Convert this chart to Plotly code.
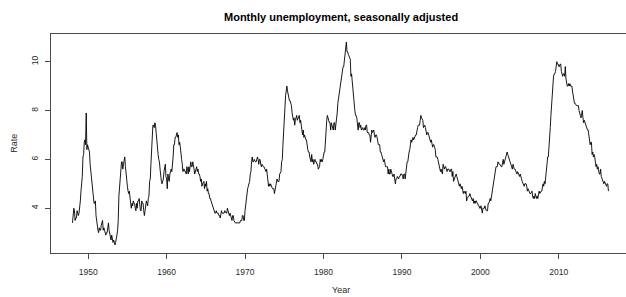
import plotly.graph_objects as go

start_year = 1948

rate_1940s = [
    3.4, 3.8, 4.0, 3.9, 3.5, 3.6, 3.6, 3.9, 3.8, 3.7, 3.8, 4.0,
    4.3, 4.7, 5.0, 5.3, 6.1, 6.2, 6.7, 6.8, 6.6, 7.9, 6.4, 6.6,
]
rate_1950s = [
    6.5, 6.4, 6.3, 5.8, 5.5, 5.4, 5.0, 4.5, 4.4, 4.2, 4.2, 4.3,
    3.7, 3.4, 3.4, 3.1, 3.0, 3.2, 3.1, 3.1, 3.3, 3.5, 3.5, 3.1,
    3.2, 3.1, 2.9, 2.9, 3.0, 3.0, 3.2, 3.4, 3.1, 3.0, 2.8, 2.7,
    2.9, 2.6, 2.6, 2.7, 2.5, 2.5, 2.6, 2.7, 2.9, 3.1, 3.5, 4.5,
    4.9, 5.2, 5.7, 5.9, 5.9, 5.6, 5.8, 6.0, 6.1, 5.7, 5.3, 5.0,
    4.9, 4.7, 4.6, 4.7, 4.3, 4.2, 4.0, 4.2, 4.1, 4.3, 4.2, 4.2,
    4.0, 3.9, 4.2, 4.0, 4.3, 4.3, 4.4, 4.1, 3.9, 3.9, 4.3, 4.2,
    4.2, 3.9, 3.7, 3.9, 4.1, 4.3, 4.2, 4.1, 4.4, 4.5, 5.1, 5.2,
    5.8, 6.4, 6.7, 7.4, 7.4, 7.3, 7.5, 7.4, 7.1, 6.7, 6.2, 6.2,
    6.0, 5.9, 5.6, 5.2, 5.1, 5.0, 5.1, 5.2, 5.5, 5.7, 5.8, 5.3,
]
rate_1960s = [
    5.2, 4.8, 5.4, 5.2, 5.1, 5.4, 5.5, 5.6, 5.5, 6.1, 6.1, 6.6,
    6.6, 6.9, 6.9, 7.0, 7.1, 6.9, 7.0, 6.6, 6.7, 6.5, 6.1, 6.0,
    5.8, 5.5, 5.6, 5.6, 5.5, 5.5, 5.4, 5.7, 5.6, 5.4, 5.7, 5.5,
    5.7, 5.9, 5.7, 5.7, 5.9, 5.6, 5.6, 5.4, 5.5, 5.5, 5.7, 5.5,
    5.6, 5.4, 5.4, 5.3, 5.1, 5.2, 4.9, 5.0, 5.1, 5.1, 4.8, 5.0,
    4.9, 5.1, 4.7, 4.8, 4.6, 4.6, 4.4, 4.4, 4.3, 4.2, 4.1, 4.0,
    4.0, 3.8, 3.8, 3.8, 3.9, 3.8, 3.8, 3.8, 3.7, 3.7, 3.6, 3.8,
    3.9, 3.8, 3.8, 3.8, 3.8, 3.9, 3.8, 3.8, 3.8, 4.0, 3.9, 3.8,
    3.7, 3.8, 3.7, 3.5, 3.5, 3.7, 3.7, 3.5, 3.4, 3.4, 3.4, 3.4,
    3.4, 3.4, 3.4, 3.4, 3.4, 3.5, 3.5, 3.5, 3.7, 3.7, 3.5, 3.5,
]
rate_1970s = [
    3.9, 4.2, 4.4, 4.6, 4.8, 4.9, 5.0, 5.1, 5.4, 5.5, 5.9, 6.1,
    5.9, 5.9, 6.0, 5.9, 5.9, 5.9, 6.0, 6.1, 6.0, 5.8, 6.0, 6.0,
    5.8, 5.7, 5.8, 5.7, 5.7, 5.7, 5.6, 5.6, 5.5, 5.6, 5.3, 5.2,
    4.9, 5.0, 4.9, 5.0, 4.9, 4.9, 4.8, 4.8, 4.8, 4.6, 4.8, 4.9,
    5.1, 5.2, 5.1, 5.1, 5.1, 5.4, 5.5, 5.5, 5.9, 6.0, 6.6, 7.2,
    8.1, 8.1, 8.6, 8.8, 9.0, 8.8, 8.6, 8.4, 8.4, 8.4, 8.3, 8.2,
    7.9, 7.7, 7.6, 7.7, 7.4, 7.6, 7.8, 7.8, 7.6, 7.7, 7.8, 7.8,
    7.5, 7.6, 7.4, 7.2, 7.0, 7.2, 6.9, 7.0, 6.8, 6.8, 6.8, 6.4,
    6.4, 6.3, 6.3, 6.1, 6.0, 5.9, 6.2, 5.9, 6.0, 5.8, 5.9, 6.0,
    5.9, 5.9, 5.8, 5.8, 5.6, 5.7, 5.7, 6.0, 5.9, 6.0, 5.9, 6.0,
]
rate_1980s = [
    6.3, 6.3, 6.3, 6.9, 7.5, 7.6, 7.8, 7.7, 7.5, 7.5, 7.5, 7.2,
    7.5, 7.4, 7.4, 7.2, 7.5, 7.5, 7.2, 7.4, 7.6, 7.9, 8.3, 8.5,
    8.6, 8.9, 9.0, 9.3, 9.4, 9.6, 9.8, 9.8, 10.1, 10.4, 10.8, 10.8,
    10.4, 10.4, 10.3, 10.2, 10.1, 10.1, 9.4, 9.5, 9.2, 8.8, 8.5, 8.3,
    8.0, 7.8, 7.8, 7.7, 7.4, 7.2, 7.5, 7.5, 7.3, 7.4, 7.2, 7.3,
    7.3, 7.2, 7.2, 7.3, 7.2, 7.4, 7.4, 7.1, 7.1, 7.1, 7.0, 7.0,
    6.7, 7.2, 7.2, 7.1, 7.2, 7.2, 7.0, 6.9, 7.0, 7.0, 6.9, 6.6,
    6.6, 6.6, 6.6, 6.3, 6.3, 6.2, 6.1, 6.0, 5.9, 6.0, 5.8, 5.7,
    5.7, 5.7, 5.7, 5.4, 5.6, 5.4, 5.4, 5.6, 5.4, 5.4, 5.3, 5.3,
    5.4, 5.2, 5.0, 5.2, 5.2, 5.3, 5.2, 5.2, 5.3, 5.3, 5.4, 5.4,
]
rate_1990s = [
    5.4, 5.3, 5.2, 5.4, 5.4, 5.2, 5.5, 5.7, 5.9, 5.9, 6.2, 6.3,
    6.4, 6.6, 6.8, 6.7, 6.9, 6.9, 6.8, 6.9, 6.9, 7.0, 7.0, 7.3,
    7.3, 7.4, 7.4, 7.4, 7.6, 7.8, 7.7, 7.6, 7.6, 7.3, 7.4, 7.4,
    7.3, 7.1, 7.0, 7.1, 7.1, 7.0, 6.9, 6.8, 6.7, 6.8, 6.6, 6.5,
    6.6, 6.6, 6.5, 6.4, 6.1, 6.1, 6.1, 6.0, 5.9, 5.8, 5.6, 5.5,
    5.6, 5.4, 5.4, 5.8, 5.6, 5.6, 5.7, 5.7, 5.6, 5.5, 5.6, 5.6,
    5.6, 5.5, 5.5, 5.6, 5.6, 5.3, 5.5, 5.1, 5.2, 5.2, 5.4, 5.4,
    5.3, 5.2, 5.2, 5.1, 4.9, 5.0, 4.9, 4.8, 4.9, 4.7, 4.6, 4.7,
    4.6, 4.6, 4.7, 4.3, 4.4, 4.5, 4.5, 4.5, 4.6, 4.5, 4.4, 4.4,
    4.3, 4.4, 4.2, 4.3, 4.2, 4.3, 4.3, 4.2, 4.2, 4.1, 4.1, 4.0,
]
rate_2000s = [
    4.0, 4.1, 4.0, 3.8, 4.0, 4.0, 4.0, 4.1, 3.9, 3.9, 3.9, 3.9,
    4.2, 4.2, 4.3, 4.4, 4.3, 4.5, 4.6, 4.9, 5.0, 5.3, 5.5, 5.7,
    5.7, 5.7, 5.7, 5.9, 5.8, 5.8, 5.8, 5.7, 5.7, 5.7, 5.9, 6.0,
    5.8, 5.9, 5.9, 6.0, 6.1, 6.3, 6.2, 6.1, 6.1, 6.0, 5.8, 5.7,
    5.7, 5.6, 5.8, 5.6, 5.6, 5.6, 5.5, 5.4, 5.4, 5.5, 5.4, 5.4,
    5.3, 5.4, 5.2, 5.2, 5.1, 5.0, 5.0, 4.9, 5.0, 5.0, 5.0, 4.9,
    4.7, 4.8, 4.7, 4.7, 4.6, 4.6, 4.7, 4.7, 4.5, 4.4, 4.5, 4.4,
    4.6, 4.5, 4.4, 4.5, 4.4, 4.6, 4.7, 4.6, 4.7, 4.7, 4.7, 5.0,
    5.0, 4.9, 5.1, 5.0, 5.4, 5.6, 5.8, 6.1, 6.1, 6.5, 6.8, 7.3,
    7.8, 8.3, 8.7, 9.0, 9.4, 9.5, 9.5, 9.6, 9.8, 10.0, 9.9, 9.9,
]
rate_2010s = [
    9.8, 9.8, 9.9, 9.9, 9.6, 9.4, 9.4, 9.5, 9.5, 9.4, 9.8, 9.3,
    9.1, 9.0, 9.0, 9.1, 9.0, 9.1, 9.0, 9.0, 9.0, 8.8, 8.6, 8.5,
    8.3, 8.3, 8.2, 8.2, 8.2, 8.2, 8.2, 8.0, 7.8, 7.8, 7.7, 7.9,
    8.0, 7.7, 7.5, 7.6, 7.5, 7.5, 7.3, 7.2, 7.2, 7.2, 6.9, 6.7,
    6.6, 6.7, 6.7, 6.2, 6.3, 6.1, 6.2, 6.1, 5.9, 5.7, 5.8, 5.6,
    5.7, 5.5, 5.4, 5.4, 5.6, 5.3, 5.2, 5.1, 5.0, 5.0, 5.1, 5.0,
    4.9, 4.9, 5.0, 5.0, 4.7,
]

x_ticks = [1950, 1960, 1970, 1980, 1990, 2000, 2010]
y_ticks = [4, 6, 8, 10]

rates = (rate_1940s + rate_1950s + rate_1960s + rate_1970s +
         rate_1980s + rate_1990s + rate_2000s + rate_2010s)
times = [start_year + i / 12 for i in range(len(rates))]

W, H = 626, 297
L, R, T, B = 50.5, 0.0, 34.4, 44.0
FONT = "Liberation Sans, Arial, Helvetica, sans-serif"
AX = "#4a4a4a"
TXT = "#2a2a2a"

fig = go.Figure()
fig.add_trace(go.Scatter(x=times, y=rates, mode="lines",
                         line=dict(color="black", width=0.9),
                         hoverinfo="skip", showlegend=False))

plot_w = W - L - R
fig.update_layout(
    width=W, height=H,
    margin=dict(l=L, r=R, t=T, b=B, pad=0),
    paper_bgcolor="white", plot_bgcolor="white",
    font=dict(family=FONT, size=8, color=TXT),
    showlegend=False,
)
fig.update_xaxes(
    range=[1945.26, 1945.26 + plot_w / 7.85],
    tickvals=x_ticks, ticktext=[str(v) for v in x_ticks],
    showgrid=False, zeroline=False,
    showline=True, linecolor=AX, linewidth=1, mirror=True,
    ticks="outside", ticklen=5, tickcolor=AX, tickwidth=1,
    ticklabelstandoff=6,
    tickfont=dict(size=8.5, color=TXT),
)
fig.update_yaxes(
    range=[2.168, 11.132],
    tickvals=y_ticks, ticktext=[str(v) for v in y_ticks],
    showgrid=False, zeroline=False,
    showline=True, linecolor=AX, linewidth=1, mirror=False,
    ticks="outside", ticklen=5, tickcolor=AX, tickwidth=1,
    tickangle=-90, ticklabelstandoff=4,
    tickfont=dict(size=8.5, color=TXT),
)

# title and axis titles
cx = (341 - L) / plot_w
fig.add_annotation(text="<b>Monthly unemployment, seasonally adjusted</b>",
                   xref="paper", yref="paper", x=cx, y=1 + (T - 17) / (H - T - B),
                   xanchor="center", yanchor="middle", showarrow=False,
                   font=dict(size=11, color="black", family=FONT))
fig.add_annotation(text="Year", xref="paper", yref="paper",
                   x=cx, y=-(290 - (H - B)) / (H - T - B),
                   xanchor="center", yanchor="middle", showarrow=False,
                   font=dict(size=9, color=TXT, family=FONT))
fig.add_annotation(text="Rate", xref="paper", yref="paper",
                   x=-(L - 12.7) / plot_w, y=0.5, textangle=-90,
                   xanchor="center", yanchor="middle", showarrow=False,
                   font=dict(size=9, color=TXT, family=FONT))

fig.write_html(
    "out.html",
    config={"displayModeBar": False},
    post_script="document.body.style.margin='0';document.body.style.overflow='hidden';",
)
